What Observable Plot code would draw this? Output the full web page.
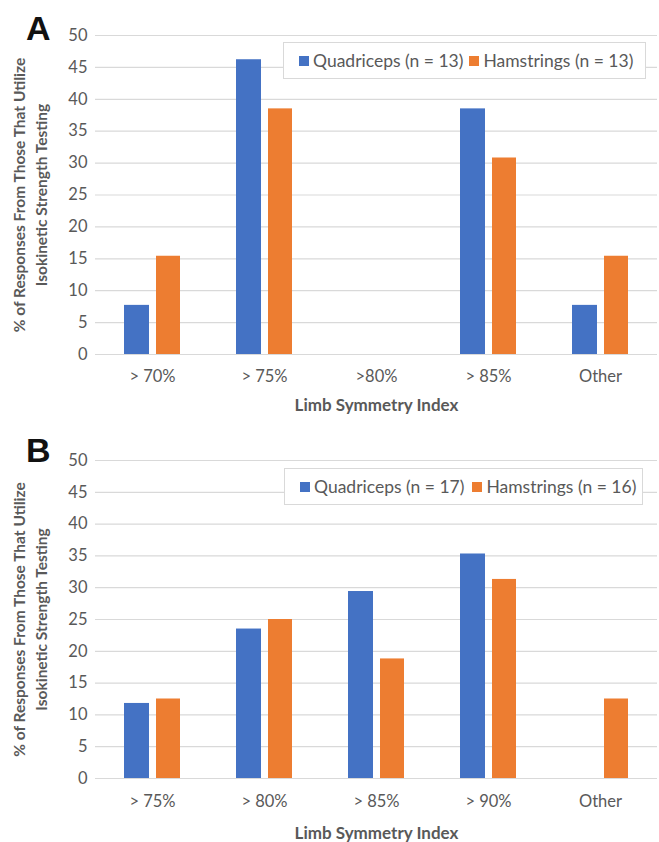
<!DOCTYPE html>
<html>
<head>
<meta charset="utf-8">
<script src="https://cdn.jsdelivr.net/npm/d3@7"></script>
<script src="https://cdn.jsdelivr.net/npm/@observablehq/plot@0.6"></script>
<style>
  body { margin: 0; background: #fff; }
  #wrap { position: relative; width: 659px; height: 842px; font-family: Lato, sans-serif; }
  .panel { position: relative; width: 659px; height: 421px; }
  .letter { position: absolute; left: 26px; font-family: "Liberation Sans", Arial, sans-serif; font-weight: bold; font-size: 34px; line-height: 1; color: #111; }
  .legend { position: absolute; background: #fff; border: 1px solid #d9d9d9; display: flex; align-items: center; font-family: Lato, sans-serif; font-size: 17.5px; color: #595959; box-sizing: border-box; }
  .legend .sw { display: inline-block; width: 10px; height: 10px; margin-right: 4px; }
  .legend .item { display: flex; align-items: center; white-space: nowrap; }
</style>
</head>
<body>
<div id="wrap">
  <div class="panel" id="pa">
    <div class="letter" style="top:11px">A</div>
  </div>
  <div class="panel" id="pb">
    <div class="letter" style="top:12px">B</div>
  </div>
</div>
<script>
// ---- data ----
const categoriesA = ["> 70%", "> 75%", ">80%", "> 85%", "Other"];
const quadricepsA = [7.7, 46.2, 0, 38.5, 7.7];
const hamstringsA = [15.4, 38.5, 0, 30.8, 15.4];
const seriesA = ["Quadriceps (n = 13)", "Hamstrings (n = 13)"];

const categoriesB = ["> 75%", "> 80%", "> 85%", "> 90%", "Other"];
const quadricepsB = [11.8, 23.5, 29.4, 35.3, 0];
const hamstringsB = [12.5, 25, 18.8, 31.3, 12.5];
const seriesB = ["Quadriceps (n = 17)", "Hamstrings (n = 16)"];

const yTicks = [0, 5, 10, 15, 20, 25, 30, 35, 40, 45, 50];
const yTitle = "% of Responses From Those That Utilize\nIsokinetic Strength Testing";
const xTitle = "Limb Symmetry Index";

const colors = ["#4472C4", "#ED7D31"];
const gray = "#595959";

function panel(cats, quad, ham, marginTop, marginBottom, tickPad, titleDy) {
  const q = cats.map((c, i) => ({cat: c, v: quad[i]}));
  const h = cats.map((c, i) => ({cat: c, v: ham[i]}));
  return Plot.plot({
    width: 659,
    height: 421,
    marginLeft: 95,
    marginRight: 2,
    marginTop,
    marginBottom,
    style: {fontFamily: "Lato, sans-serif", fontSize: "16.5px", color: gray, background: "transparent", overflow: "visible"},
    x: {domain: cats, padding: 0},
    y: {domain: [0, 50]},
    marks: [
      Plot.gridY(yTicks, {stroke: "#d9d9d9", strokeOpacity: 1, strokeWidth: 1.2}),
      Plot.barY(q, {x: "cat", y: "v", fill: colors[0], insetLeft: 28, insetRight: 59}),
      Plot.barY(h, {x: "cat", y: "v", fill: colors[1], insetLeft: 60, insetRight: 28}),
      Plot.axisY({ticks: yTicks, tickSize: 0, tickPadding: 8, label: null}),
      Plot.axisX({tickSize: 0, tickPadding: tickPad, label: null}),
      Plot.text([xTitle], {frameAnchor: "bottom", lineAnchor: "middle", dy: titleDy, text: d => d, fontWeight: "bold", fontSize: 17, fill: gray}),
      Plot.text([yTitle], {frameAnchor: "left", textAnchor: "middle", dx: -67, rotate: -90, text: d => d, fontWeight: "bold", fontSize: 15.5, lineHeight: 1.42, fill: gray})
    ]
  });
}

function legend(parent, series, pos) {
  const box = document.createElement("div");
  box.className = "legend";
  Object.assign(box.style, {left: pos.left + "px", top: pos.top + "px", width: pos.width + "px", height: pos.height + "px", paddingLeft: "15px", gap: pos.gap + "px"});
  series.forEach((s, i) => {
    const it = document.createElement("span");
    it.className = "item";
    const sw = document.createElement("span");
    sw.className = "sw";
    sw.style.background = colors[i];
    it.appendChild(sw);
    it.appendChild(document.createTextNode(s));
    box.appendChild(it);
  });
  parent.appendChild(box);
}

const pa = document.getElementById("pa");
const pb = document.getElementById("pb");
pa.insertBefore(panel(categoriesA, quadricepsA, hamstringsA, 35, 67, 16, 51), pa.firstChild);
pb.insertBefore(panel(categoriesB, quadricepsB, hamstringsB, 39, 64, 17, 55), pb.firstChild);
legend(pa, seriesA, {left: 283, top: 42, width: 363, height: 37, gap: 6});
legend(pb, seriesB, {left: 284, top: 47, width: 359, height: 37, gap: 8});
</script>
</body>
</html>
